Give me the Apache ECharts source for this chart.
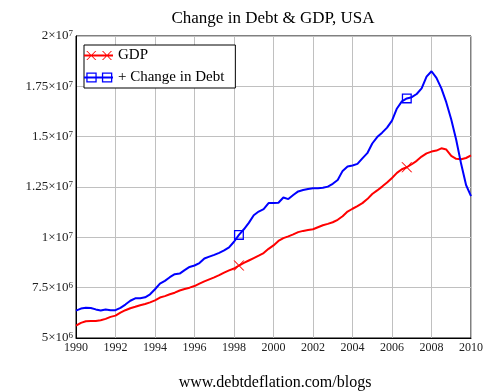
<!DOCTYPE html>
<html><head><meta charset="utf-8">
<script src="https://cdn.jsdelivr.net/npm/echarts@6/dist/echarts.min.js"></script>
<style>html,body{margin:0;padding:0;background:#fff}#c{width:493px;height:391px}</style>
</head><body><div id="c"></div>
<script>
// Quarterly observations, 1990.00 .. 2010.00 (values in millions of USD)
const startYear = 1990;
const stepYear = 0.25;
const gdp = [
  5.61, 5.75, 5.83, 5.84, 5.84, 5.88, 5.95, 6.05,
  6.11, 6.26, 6.38, 6.48, 6.55, 6.63, 6.69, 6.77,
  6.87, 7.01, 7.08, 7.17, 7.25, 7.36, 7.43, 7.50,
  7.58, 7.70, 7.81, 7.91, 8.01, 8.12, 8.25, 8.36,
  8.45, 8.60, 8.73, 8.85, 8.97, 9.09, 9.22, 9.43,
  9.60, 9.82, 9.96, 10.05, 10.15, 10.26, 10.32, 10.36,
  10.40, 10.50, 10.60, 10.67, 10.75, 10.87, 11.05, 11.28,
  11.42, 11.55, 11.70, 11.90, 12.15, 12.33, 12.52, 12.72,
  12.95, 13.20, 13.38, 13.48, 13.63, 13.80, 14.01, 14.17,
  14.26, 14.31, 14.42, 14.36, 14.05, 13.90, 13.88, 13.94,
  14.07
];
const debt = [
  6.36, 6.46, 6.50, 6.49, 6.42, 6.37, 6.42, 6.38,
  6.38, 6.50, 6.66, 6.85, 6.97, 6.97, 7.02, 7.17,
  7.42, 7.70, 7.84, 8.02, 8.17, 8.20, 8.37, 8.53,
  8.60, 8.72, 8.95, 9.04, 9.13, 9.23, 9.35, 9.50,
  9.78, 10.12, 10.40, 10.72, 11.10, 11.28, 11.40, 11.70,
  11.70, 11.72, 11.98, 11.90, 12.10, 12.28, 12.35, 12.40,
  12.44, 12.44, 12.46, 12.52, 12.66, 12.85, 13.30, 13.52,
  13.57, 13.65, 13.92, 14.18, 14.66, 14.98, 15.20, 15.45,
  15.80, 16.40, 16.75, 16.90, 16.96, 17.12, 17.40, 17.98,
  18.25, 17.92, 17.40, 16.70, 15.85, 14.85, 13.65, 12.60,
  12.05
];
const markerIdx = [33, 67];
const seriesNames = ['GDP', '+ Change in Debt'];
const titleText = 'Change in Debt & GDP, USA';
const footerText = 'www.debtdeflation.com/blogs';

const serif = 'Liberation Serif, Times New Roman, serif';
const xSym = 'path://M0 0 L1.2 0 L11 10 L9.8 10 Z M9.8 0 L11 0 L1.2 10 L0 10 Z';
const sqSym = 'path://M0 0 L10 0 L10 10 L0 10 Z M1.3 1.3 L1.3 8.7 L8.7 8.7 L8.7 1.3 Z';
const specks = 'M0 0 L0.01 0 L0 0.01 Z M29 14 L28.99 14 L29 13.99 Z ';
const lineBar = 'M0 6.1 L29 6.1 L29 7.9 L0 7.9 Z ';
const gdpIcon = 'path://' + specks + lineBar +
  'M2.3 2.5 L3.4 2.5 L12.3 11.5 L11.2 11.5 Z M11.2 2.5 L12.3 2.5 L3.4 11.5 L2.3 11.5 Z ' +
  'M18 2.5 L19.1 2.5 L28 11.5 L26.9 11.5 Z M26.9 2.5 L28 2.5 L19.1 11.5 L18 11.5 Z';
const debtIcon = 'path://' + specks + lineBar +
  'M2.3 2 L12.7 2 L12.7 12 L2.3 12 Z M3.6 3.3 L3.6 10.7 L11.4 10.7 L11.4 3.3 Z ' +
  'M17.9 2 L28.3 2 L28.3 12 L17.9 12 Z M19.2 3.3 L19.2 10.7 L27 10.7 L27 3.3 Z';

function build(vals, sym, size) {
  return vals.map((v, i) => {
    const x = startYear + i * stepYear;
    if (markerIdx.indexOf(i) >= 0) {
      return { value: [x, v], symbol: sym, symbolSize: size };
    }
    return [x, v];
  });
}

function yFmt(v) {
  let m, e;
  if (v < 10) { m = v; e = 6; } else { m = v / 10; e = 7; }
  m = Math.round(m * 1000) / 1000;
  return '{m|' + m + '×10}{e|' + e + '}';
}

const chart = echarts.init(document.getElementById('c'), null, { renderer: 'canvas' });
chart.setOption({
  animation: false,
  backgroundColor: '#fff',
  title: [
    { text: titleText, left: 268, top: 5, textAlign: 'center',
      textStyle: { fontFamily: serif, fontSize: 17, fontWeight: 'normal', color: '#000' } },
    { text: footerText, left: 270, top: 370, textAlign: 'center',
      textStyle: { fontFamily: serif, fontSize: 16, fontWeight: 'normal', color: '#000' } }
  ],
  grid: { left: 76, right: 22, top: 36, bottom: 53, show: true, borderColor: '#000', borderWidth: 1, backgroundColor: '#fff' },
  legend: {
    orient: 'vertical', left: 84, top: 45,
    padding: [3, 11, 3, 0], itemGap: 7, itemWidth: 29, itemHeight: 14,
    backgroundColor: '#fff', borderColor: '#000', borderWidth: 1,
    selectedMode: false,
    itemStyle: { borderWidth: 0 },
    textStyle: { fontFamily: serif, fontSize: 15, color: '#000' },
    data: [
      { name: seriesNames[0], icon: gdpIcon },
      { name: seriesNames[1], icon: debtIcon }
    ]
  },
  xAxis: {
    type: 'value', min: 1990, max: 2010, interval: 2,
    axisLine: { show: true, lineStyle: { color: '#000', width: 1 } },
    axisTick: { show: false },
    axisLabel: { fontFamily: serif, fontSize: 12, color: '#222', margin: 4, formatter: v => String(v) },
    splitLine: { show: true, lineStyle: { color: '#c0c0c0', width: 1 } }
  },
  yAxis: {
    type: 'value', min: 5, max: 20, interval: 2.5,
    axisLine: { show: true, lineStyle: { color: '#000', width: 1 } },
    axisTick: { show: false },
    axisLabel: {
      margin: 3, formatter: yFmt,
      rich: {
        m: { fontFamily: serif, fontSize: 13, color: '#222', verticalAlign: 'bottom', lineHeight: 13 },
        e: { fontFamily: serif, fontSize: 9, color: '#222', verticalAlign: 'top', lineHeight: 9, padding: [0, 0, 10, 0] }
      }
    },
    splitLine: { show: true, lineStyle: { color: '#c0c0c0', width: 1 } }
  },
  series: [
    { name: seriesNames[0], type: 'line', data: build(gdp, xSym, [11, 10]),
      symbol: 'none', showSymbol: true, symbolKeepAspect: false,
      lineStyle: { color: '#ff0000', width: 2 }, itemStyle: { color: '#ff0000', borderWidth: 0 },
      emphasis: { disabled: true }, z: 3 },
    { name: seriesNames[1], type: 'line', data: build(debt, sqSym, [10, 10]),
      symbol: 'none', showSymbol: true,
      lineStyle: { color: '#0000ff', width: 2 }, itemStyle: { color: '#0000ff', borderWidth: 0 },
      emphasis: { disabled: true }, z: 4 }
  ]
});
</script>
</body></html>
